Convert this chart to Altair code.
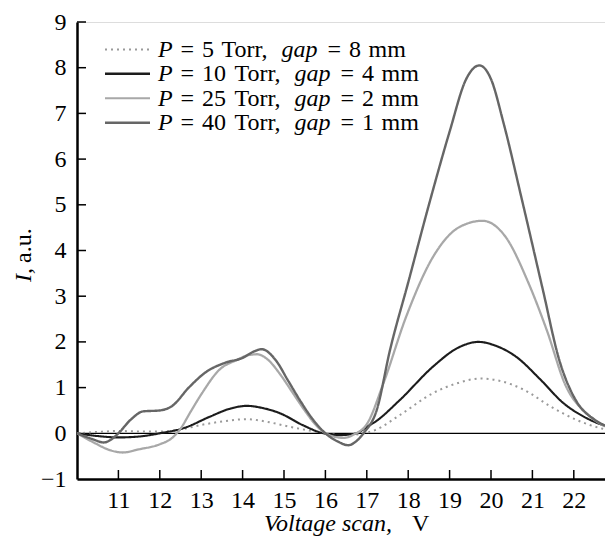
import altair as alt
import pandas as pd

# ---------------- data ----------------
series = ["P5", "P10", "P25", "P40"]

v5 = [10.0, 10.5, 11.0, 11.5, 12.0, 12.4, 13.1, 13.6, 14.1, 14.6, 15.1, 15.55, 16.0, 16.4, 16.8, 17.2, 17.8, 18.6, 19.2, 19.75, 20.2, 20.8, 21.45, 22.05, 22.7, 23.0]
i5 = [0.0, 0.03, 0.05, 0.04, 0.04, 0.07, 0.2, 0.27, 0.31, 0.25, 0.15, 0.07, 0.0, -0.04, -0.02, 0.07, 0.4, 0.88, 1.1, 1.2, 1.15, 0.95, 0.58, 0.3, 0.1, 0.05]

v10 = [10.0, 10.5, 11.0, 11.5, 12.0, 12.6, 13.2, 13.7, 14.1, 14.5, 14.9, 15.45, 15.95, 16.35, 16.75, 17.0, 17.2, 17.8, 18.6, 19.2, 19.7, 20.1, 20.6, 21.2, 21.75, 22.25, 22.7, 23.0]
i10 = [0.0, -0.06, -0.09, -0.07, 0.0, 0.12, 0.36, 0.54, 0.6, 0.55, 0.44, 0.18, 0.0, -0.04, 0.0, 0.14, 0.25, 0.73, 1.46, 1.87, 2.0, 1.92, 1.68, 1.17, 0.66, 0.36, 0.18, 0.1]

v25 = [10.0, 10.4, 10.8, 11.1, 11.5, 12.0, 12.3, 12.5, 12.75, 13.0, 13.45, 13.85, 14.1, 14.35, 14.6, 14.9, 15.2, 15.5, 15.8, 16.0, 16.2, 16.45, 16.7, 17.0, 17.4, 17.95, 18.6, 19.25, 19.8, 20.35, 20.9, 21.35, 21.8, 22.3, 22.7, 23.0]
i25 = [0.0, -0.2, -0.37, -0.42, -0.35, -0.24, -0.1, 0.1, 0.48, 0.85, 1.4, 1.6, 1.7, 1.73, 1.62, 1.3, 0.9, 0.5, 0.15, 0.0, -0.07, -0.1, -0.02, 0.2, 1.09, 2.55, 3.86, 4.52, 4.65, 4.3, 3.3, 2.25, 1.05, 0.44, 0.18, 0.08]

v40 = [10.0, 10.35, 10.65, 10.85, 11.0, 11.3, 11.6, 12.0, 12.3, 12.7, 13.1, 13.6, 14.0, 14.25, 14.46, 14.8, 15.1, 15.4, 15.7, 16.0, 16.3, 16.55, 16.75, 16.92, 17.24, 17.56, 18.0, 18.5, 19.0, 19.4, 19.72, 20.0, 20.3, 20.75, 21.25, 21.65, 22.05, 22.5, 23.0]
i40 = [0.0, -0.12, -0.2, -0.12, 0.0, 0.3, 0.48, 0.5, 0.6, 1.0, 1.33, 1.55, 1.65, 1.78, 1.84, 1.6, 1.15, 0.7, 0.3, 0.0, -0.18, -0.26, -0.17, 0.0, 0.51, 1.82, 3.3, 5.0, 6.6, 7.75, 8.05, 7.75, 6.8, 5.1, 3.15, 1.6, 0.72, 0.3, 0.1]

pressures = ["5", "10", "25", "40"]
gaps = ["8", "4", "2", "1"]

x_ticks = [11, 12, 13, 14, 15, 16, 17, 18, 19, 20, 21, 22]
y_ticks = [-1, 0, 1, 2, 3, 4, 5, 6, 7, 8, 9]

# ---------------- styles / layout ----------------
colors = ["#9a9a9a", "#1c1c1c", "#a8a8a8", "#666666"]
dashes = [[2, 4], [1, 0], [1, 0], [1, 0]]
widths = [2.0, 2.4, 2.0, 2.4]
FONT = "'Liberation Serif', 'Times New Roman', 'DejaVu Serif', serif"
FS = 24      # tick labels / axis titles
FSL = 24     # legend
W, H = 528, 457
X_MAX = 10 + W / 41.4
PX0, PY0 = 77, 22  # page position of plot origin

rows = []
for s, vs, iss in zip(series, [v5, v10, v25, v40], [i5, i10, i25, i40]):
    for v, i in zip(vs, iss):
        rows.append({"series": s, "V": v, "I": i})
df = pd.DataFrame(rows)

xscale = alt.Scale(domain=[10, X_MAX], nice=False, zero=False)
yscale = alt.Scale(domain=[-1, 9], nice=False, zero=False)

lines = alt.Chart(df).mark_line(interpolate="monotone", clip=True).encode(
    x=alt.X("V:Q", scale=xscale,
            axis=alt.Axis(values=x_ticks, ticks=False, grid=False, domainColor="black",
                          domainWidth=2.5, labelFont=FONT, labelFontSize=FS, labelColor="black",
                          labelPadding=9, title=None, labelFlush=False)),
    y=alt.Y("I:Q", scale=yscale,
            axis=alt.Axis(values=y_ticks, ticks=False, grid=False, domainColor="black",
                          domainWidth=2.5, labelFont=FONT, labelFontSize=FS, labelColor="black",
                          labelPadding=11, title=None, labelFlush=False)),
    color=alt.Color("series:N", scale=alt.Scale(domain=series, range=colors), legend=None),
    strokeDash=alt.StrokeDash("series:N", scale=alt.Scale(domain=series, range=dashes), legend=None),
    strokeWidth=alt.StrokeWidth("series:N", scale=alt.Scale(domain=series, range=widths), legend=None),
    detail="series:N",
)

zero = alt.Chart(pd.DataFrame({"y": [0]})).mark_rule(color="black", strokeWidth=1.3).encode(
    y=alt.Y("y:Q", scale=yscale))

xt = alt.Chart(pd.DataFrame({"x": x_ticks})).mark_rule(color="black", strokeWidth=1.5).encode(
    x=alt.X("x:Q", scale=xscale), y=alt.value(H), y2=alt.value(H - 9))
yt = alt.Chart(pd.DataFrame({"y": [t for t in y_ticks if t > 0]})).mark_rule(color="black", strokeWidth=1.5).encode(
    y=alt.Y("y:Q", scale=yscale), x=alt.value(0), x2=alt.value(9))

layers = [zero, lines, xt, yt]

# ---------------- legend (mixed italic text) ----------------
one = pd.DataFrame({"a": [0]})
base_y = [56.7, 81.1, 105.5, 130.0]   # page y of text baselines
# page-x positions of the pieces (single-digit row / two-digit rows)
pos_short = [158.0, 180.5, 202.0, 221.5, 281.5, 327.5, 349.0, 368.5]
pos_long = [158.0, 180.5, 202.0, 234.5, 294.5, 340.5, 362.0, 381.5]
for k in range(4):
    by = base_y[k] - PY0
    sy = by - 7.3
    layers.append(alt.Chart(one).mark_rule(color=colors[k], strokeDash=dashes[k],
                                           strokeWidth=widths[k]).encode(
        x=alt.value(105 - PX0), x2=alt.value(150 - PX0), y=alt.value(sy)))
    pos = pos_short if k == 0 else pos_long
    texts = ["P", "=", pressures[k], "Torr,", "gap", "=", gaps[k], "mm"]
    styles = ["italic", "normal", "normal", "normal", "italic", "normal", "normal", "normal"]
    for txt, px, st in zip(texts, pos, styles):
        layers.append(alt.Chart(one).mark_text(text=txt, align="left", baseline="alphabetic",
                                               font=FONT, fontSize=FSL, fontStyle=st,
                                               color="black").encode(
            x=alt.value(px - PX0), y=alt.value(by)))

# ---------------- axis titles (mixed italic) ----------------
layers.append(alt.Chart(one).mark_text(text="Voltage scan,", align="left", baseline="alphabetic",
                                       font=FONT, fontSize=FS, fontStyle="italic", color="black").encode(
    x=alt.value(264 - PX0), y=alt.value(531 - PY0)))
layers.append(alt.Chart(one).mark_text(text="V", align="left", baseline="alphabetic",
                                       font=FONT, fontSize=FS, color="black").encode(
    x=alt.value(412 - PX0), y=alt.value(531 - PY0)))
layers.append(alt.Chart(one).mark_text(text="I,", align="left", baseline="alphabetic", angle=270,
                                       font=FONT, fontSize=FS, fontStyle="italic", color="black").encode(
    x=alt.value(31 - PX0), y=alt.value(282 - PY0)))
layers.append(alt.Chart(one).mark_text(text="a.u.", align="left", baseline="alphabetic", angle=270,
                                       font=FONT, fontSize=FS, color="black").encode(
    x=alt.value(31 - PX0), y=alt.value(263 - PY0)))

chart = alt.layer(*layers).properties(
    width=W, height=H,
    autosize=alt.AutoSizeParams(type="none"),
    padding={"left": 69, "top": 14, "right": 0, "bottom": 58},
).configure_view(stroke=None).configure(background="white")

chart.save("out.html", embed_options={"renderer": "svg", "actions": False})
